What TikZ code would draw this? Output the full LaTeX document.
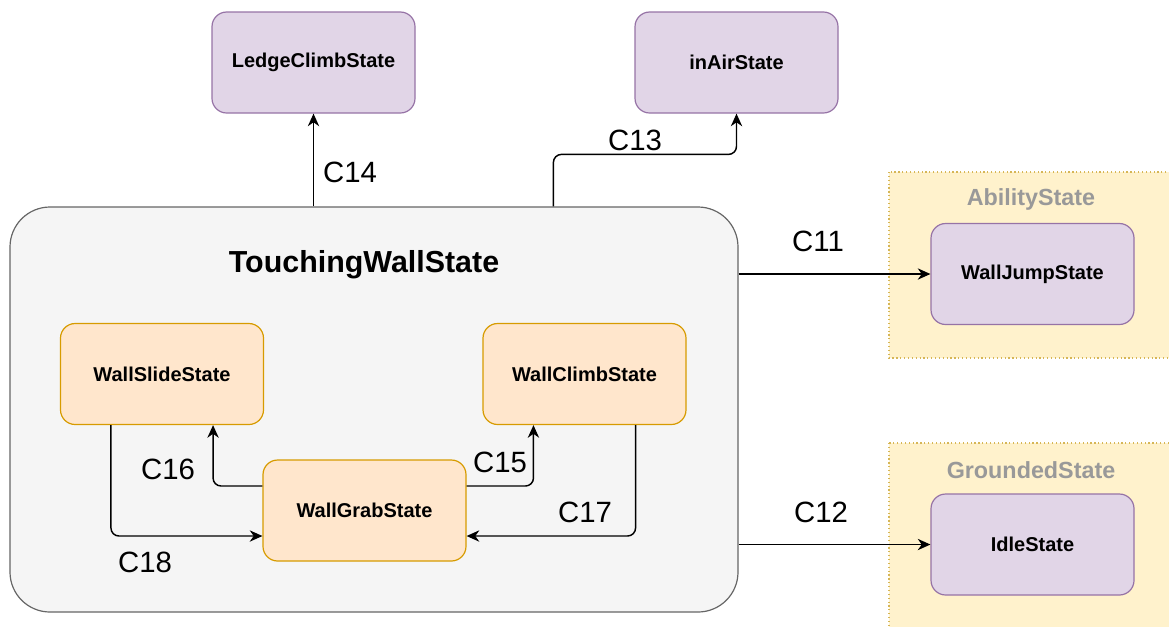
\documentclass[tikz,border=0pt]{standalone}
\usepackage{fontspec}
\setmainfont{Liberation Sans}
\usepackage{xcolor}
\usetikzlibrary{arrows.meta,positioning,calc}

\definecolor{purplefill}{HTML}{E1D5E7}
\definecolor{purpleline}{HTML}{9673A6}
\definecolor{orangefill}{HTML}{FFE6CC}
\definecolor{orangeline}{HTML}{D79B00}
\definecolor{yellowfill}{HTML}{FFF2CC}
\definecolor{yellowline}{HTML}{D6B656}
\definecolor{greyfill}{HTML}{F5F5F5}
\definecolor{greyline}{HTML}{666666}
\definecolor{grouptext}{HTML}{999999}

\begin{document}
\begin{tikzpicture}[
  x=0.75pt, y=-0.75pt,
  state/.style={rectangle, draw=#1line, fill=#1fill, rounded corners=11pt,
                line width=0.9pt, minimum width=152.25pt, minimum height=75.75pt,
                text centered, font=\fontsize{15}{18}\selectfont\bfseries, inner sep=3pt},
  state/.default={purple},
  group/.style={rectangle, draw=yellowline, fill=yellowfill, dotted, line width=0.9pt},
  grouptitle/.style={font=\fontsize{17.5}{21}\selectfont\bfseries, text=grouptext},
  arrow/.style={-{Stealth[length=9.5pt, width=8.5pt, inset=3pt]}, line width=1.1pt,
                rounded corners=6pt},
  lbl/.style={font=\fontsize{22}{26}\selectfont, inner sep=0pt}
]
  \useasboundingbox (0,0) rectangle (1169,626);

  % Outer groups
  \draw[group] (889,172) rectangle (1180,358);
  \draw[group] (889,443) rectangle (1180,640);
  \node[grouptitle] (abilitytitle) at (1031,199) {AbilityState};
  \node[grouptitle] (groundedtitle) at (1031,470) {GroundedState};

  % Touching wall super state
  \node[rectangle, draw=greyline, fill=greyfill, rounded corners=30pt, line width=0.9pt,
        minimum width=546pt, minimum height=303.75pt] (touch) at (374,409.5) {};
  \node[font=\fontsize{22.8}{27}\selectfont\bfseries] (touchtitle) at (364,265) {TouchingWallState};

  % States
  \node[state] (ledge) at (313.5,62.5) {LedgeClimbState};
  \node[state] (inair) at (736.5,62.5) {inAirState};
  \node[state] (jump) at (1032.5,274) {WallJumpState};
  \node[state] (idle) at (1032.5,544.5) {IdleState};
  \node[state=orange] (slide) at (162,374) {WallSlideState};
  \node[state=orange] (climb) at (584.5,374) {WallClimbState};
  \node[state=orange] (grab) at (364.5,510.5) {WallGrabState};

  % Leaving the super state
  \coordinate (c13start) at ($(touch.north west)+(544,0)$);
  \draw[arrow] (ledge.south |- touch.north) -- (ledge.south);
  \draw[arrow] (c13start) -- ++(0,-52) -| (inair.south);
  \draw[arrow] (touch.east |- jump.west) -- (jump.west);
  \draw[arrow] (touch.east |- idle.west) -- (idle.west);

  % Inner transitions
  \draw[arrow] ($(grab.west)+(0,-24.5)$) -| ($(slide.south)!0.5!(slide.south east)$);
  \draw[arrow] ($(grab.east)+(0,-24.5)$) -| ($(climb.south)!0.5!(climb.south west)$);
  \draw[arrow] ($(climb.south)!0.5!(climb.south east)$) |- ($(grab.east)+(0,25.5)$);
  \draw[arrow] ($(slide.south)!0.5!(slide.south west)$) |- ($(grab.west)+(0,25.5)$);

  % Labels
  \node[lbl] (l14) at (350,172) {C14};
  \node[lbl] (l13) at (635,140) {C13};
  \node[lbl] (l11) at (818,241) {C11};
  \node[lbl] (l12) at (821,512) {C12};
  \node[lbl] (l16) at (168,469) {C16};
  \node[lbl] (l15) at (500,462) {C15};
  \node[lbl] (l17) at (585,512) {C17};
  \node[lbl] (l18) at (145,562) {C18};
\end{tikzpicture}
\end{document}
